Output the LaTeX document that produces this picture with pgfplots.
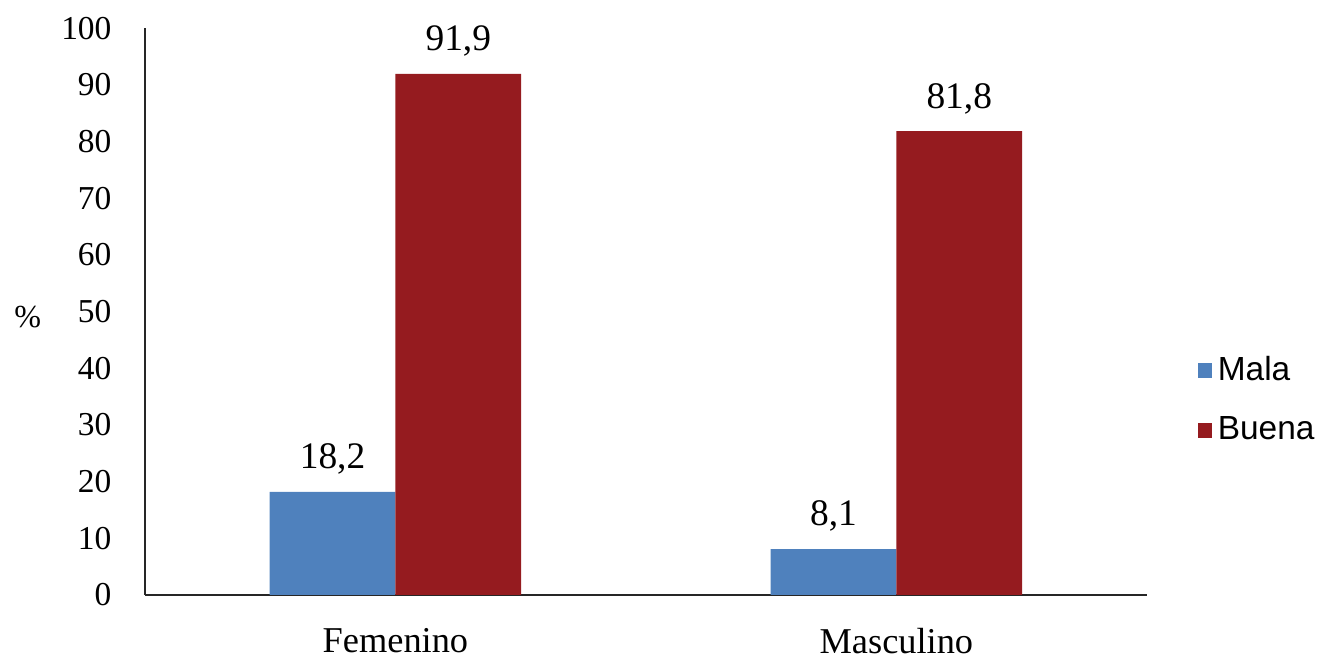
\documentclass[border=0pt]{standalone}
\usepackage{pgfplots}
\pgfplotsset{compat=1.18}
\usepackage{fontspec}
\setmainfont{Liberation Serif}
\newfontfamily\legfont{Liberation Sans}
\definecolor{malac}{HTML}{4F81BD}
\definecolor{buenac}{HTML}{951B1F}
\begin{document}
\begin{tikzpicture}
\path (-54.2pt,-24.3pt) rectangle (445.8pt,222.5pt);
\begin{axis}[
  scale only axis,
  width=374.7pt, height=212pt,
  ybar=0pt, bar width=0.251,
  xmin=-0.5, xmax=1.5, ymin=0, ymax=100,
  xtick={0,1}, xticklabels={Femenino,Masculino},
  ytick={0,10,...,100},
  axis x line*=bottom, axis y line*=left,
  axis line style={line width=0.9pt, black!85},
  x axis line style={-}, y axis line style={-},
  major tick length=0pt,
  tick style={draw=none},
  /pgf/number format/assume math mode=true,
  tick label style={font=\fontsize{12.5}{14}\selectfont},
  xticklabel style={yshift=-9pt, font=\fontsize{13.6}{15}\selectfont},
  yticklabel style={xshift=-9pt},
  ylabel={\%}, ylabel style={rotate=-90, at={(axis description cs:-0.117,0.49)}, anchor=center, font=\fontsize{12}{13}\selectfont},
  nodes near coords,
  nodes near coords style={font=\fontsize{14}{16}\selectfont, yshift=3pt,
    /pgf/number format/.cd, fixed, fixed zerofill, precision=1, use comma, assume math mode=true},
  legend style={draw=none, at={(1.05,0.344)}, anchor=west, font=\legfont\fontsize{12.5}{14}\selectfont,
    row sep=8pt, inner sep=0pt},
  legend cell align=left,
  legend image code/.code={\fill[#1] (0pt,-2.8pt) rectangle (5.6pt,2.8pt);},
]
\addplot[fill=malac, draw=none] coordinates {(0,18.2) (1,8.1)};
\addplot[fill=buenac, draw=none] coordinates {(0,91.9) (1,81.8)};
\legend{Mala, Buena}
\end{axis}
\end{tikzpicture}
\end{document}
